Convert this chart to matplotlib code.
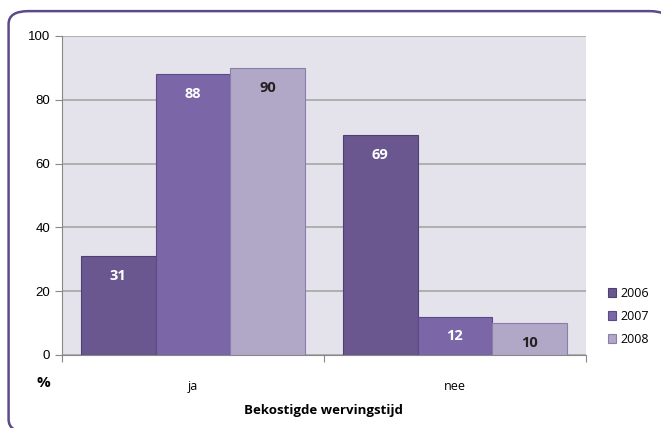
import numpy as np
import matplotlib.pyplot as plt
from matplotlib.patches import FancyBboxPatch

# data
categories = ["ja", "nee"]
years = ["2006", "2007", "2008"]
values_2006 = [31, 69]
values_2007 = [88, 12]
values_2008 = [90, 10]

colors = ["#6a5790", "#7b66a8", "#b1a8c8"]
edges = ["#4f3f72", "#5a4a85", "#8a7fa8"]
label_colors = ["white", "white", "#222222"]

fig = plt.figure(figsize=(6.61, 4.28), dpi=100)

# rounded frame behind everything
frame = FancyBboxPatch((0.013, -0.01), 1.0, 0.984, boxstyle="round,pad=0,rounding_size=0.03",
                       transform=fig.transFigure, facecolor="white", edgecolor="#5c4a8a",
                       linewidth=1.8, zorder=-10)
fig.add_artist(frame)

ax = fig.add_axes([0.0938, 0.1706, 0.7927, 0.7453])
ax.set_facecolor("#e4e2ea")

x = np.arange(len(categories))
w = 0.286
series = [values_2006, values_2007, values_2008]
for i, vals in enumerate(series):
    pos = x + (i - 1) * w
    bars = ax.bar(pos, vals, w, color=colors[i], edgecolor=edges[i], linewidth=0.8,
                  label=years[i], zorder=3)
    for b, v in zip(bars, vals):
        ax.text(b.get_x() + b.get_width() / 2, v - 4.0, str(v), ha="center", va="top",
                color=label_colors[i], fontsize=10.5, fontweight="bold", family="Open Sans",
                zorder=4)

ax.set_xlim(-0.5, 1.5)
ax.set_ylim(0, 100)
ax.set_yticks([0, 20, 40, 60, 80, 100])
ax.yaxis.grid(True, color="#a6a6a6", linewidth=1.2, zorder=1)
ax.set_axisbelow(True)

ax.set_xticks([-0.5, 0.5, 1.5])
ax.set_xticklabels([])
ax.set_xticks(x, minor=True)
ax.set_xticklabels(categories, minor=True, family="Open Sans", fontsize=9)
ax.tick_params(axis="x", which="minor", length=0, pad=18)
ax.tick_params(axis="x", which="major", length=5, color="#888888")
ax.tick_params(axis="y", length=5, color="#888888", labelsize=9.5)
for lab in ax.get_yticklabels():
    lab.set_family("Liberation Sans")

for s in ["top", "right"]:
    ax.spines[s].set_visible(False)
ax.spines["left"].set_color("#888888")
ax.spines["bottom"].set_color("#888888")

fig.text(0.065, 0.105, "%", fontsize=11, fontweight="bold", family="Open Sans", ha="center", va="center")
fig.text(0.49, 0.042, "Bekostigde wervingstijd", fontsize=9.5, fontweight="bold", family="Open Sans",
         ha="center", va="center")

leg = ax.legend(loc="center left", bbox_to_anchor=(1.02, 0.12), frameon=False,
                handlelength=0.7, handleheight=0.7, handletextpad=0.3, labelspacing=0.8,
                prop={"family": "Open Sans", "size": 9})

fig.savefig("out.png", dpi=100)
